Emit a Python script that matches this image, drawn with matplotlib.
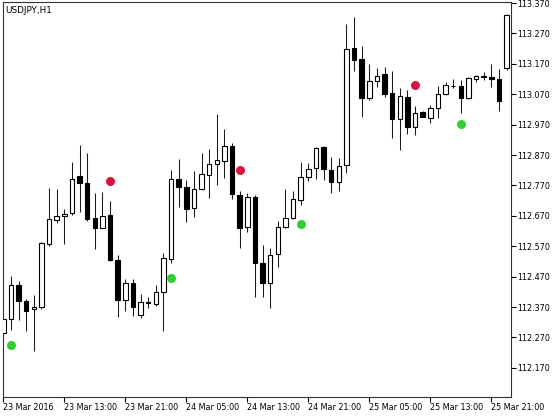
import matplotlib
matplotlib.use("Agg")
import matplotlib.pyplot as plt
import numpy as np

title = "USDJPY,H1"
opens = [112.285, 112.331, 112.442, 112.391, 112.362, 112.371, 112.577, 112.656, 112.669, 112.678,
         112.802, 112.777, 112.662, 112.631, 112.673, 112.525, 112.393, 112.450, 112.344, 112.383,
         112.380, 112.420, 112.527, 112.790, 112.764, 112.695, 112.757, 112.804, 112.840, 112.851,
         112.900, 112.738, 112.632, 112.733, 112.514, 112.450, 112.544, 112.634, 112.662, 112.722,
         112.799, 112.826, 112.895, 112.821, 112.782, 112.837, 113.221, 113.185, 113.057, 113.113,
         113.136, 113.073, 112.987, 113.062, 112.963, 113.011, 112.991, 113.024, 113.071, 113.097,
         113.097, 113.058, 113.120, 113.130, 113.128, 113.119, 113.155]
highs = [112.340, 112.473, 112.457, 112.396, 112.409, 112.584, 112.760, 112.757, 112.691, 112.846,
         112.903, 112.878, 112.744, 112.749, 112.719, 112.541, 112.461, 112.461, 112.413, 112.404,
         112.442, 112.547, 112.821, 112.856, 112.788, 112.818, 112.878, 112.889, 113.004, 112.955,
         112.908, 112.752, 112.744, 112.738, 112.574, 112.563, 112.654, 112.757, 112.753, 112.846,
         112.843, 112.897, 112.900, 112.862, 112.859, 113.301, 113.323, 113.229, 113.169, 113.155,
         113.160, 113.147, 113.089, 113.084, 113.031, 113.015, 113.034, 113.097, 113.111, 113.119,
         113.117, 113.126, 113.133, 113.144, 113.169, 113.152, 113.334]
lows = [112.278, 112.294, 112.327, 112.292, 112.226, 112.362, 112.571, 112.647, 112.577, 112.673,
        112.683, 112.654, 112.560, 112.629, 112.521, 112.338, 112.358, 112.340, 112.333, 112.366,
        112.374, 112.292, 112.516, 112.700, 112.651, 112.665, 112.755, 112.728, 112.771, 112.793,
        112.725, 112.563, 112.618, 112.402, 112.402, 112.366, 112.501, 112.630, 112.659, 112.706,
        112.785, 112.790, 112.788, 112.746, 112.753, 112.810, 113.147, 112.996, 113.051, 113.093,
        113.060, 112.925, 112.886, 112.939, 112.936, 112.994, 112.974, 112.991, 113.067, 113.089,
        113.007, 113.055, 113.111, 113.117, 113.093, 113.016, 113.150]
closes = [112.331, 112.442, 112.391, 112.358, 112.369, 112.580, 112.658, 112.669, 112.676, 112.790,
          112.777, 112.658, 112.631, 112.669, 112.525, 112.393, 112.450, 112.369, 112.387, 112.385,
          112.420, 112.532, 112.790, 112.764, 112.692, 112.757, 112.807, 112.840, 112.854, 112.900,
          112.742, 112.629, 112.733, 112.514, 112.450, 112.541, 112.634, 112.664, 112.724, 112.799,
          112.823, 112.892, 112.823, 112.782, 112.834, 113.218, 113.183, 113.057, 113.113, 113.130,
          113.071, 112.987, 113.065, 112.961, 113.009, 112.996, 113.024, 113.071, 113.100, 113.098,
          113.058, 113.122, 113.130, 113.126, 113.119, 113.049, 113.331]

up_idx = [14, 31, 54]
up_val = [112.785, 112.820, 113.099]
down_idx = [1, 22, 39, 60]
down_val = [112.245, 112.466, 112.643, 112.972]

y_ticks = [112.170, 112.270, 112.370, 112.470, 112.570, 112.670, 112.770, 112.870,
           112.970, 113.070, 113.170, 113.270, 113.370]
x_tick_pos = [0, 8, 16, 24, 32, 40, 48, 56, 64]
x_tick_labels = ["23 Mar 2016", "23 Mar 13:00", "23 Mar 21:00", "24 Mar 05:00", "24 Mar 13:00",
                 "24 Mar 21:00", "25 Mar 05:00", "25 Mar 13:00", "25 Mar 21:00"]

plt.rcParams['font.family'] = ['DejaVu Sans']
fig = plt.figure(figsize=(5.6, 4.16), dpi=100)
ax = fig.add_axes([3/560, 19/416, 508/560, 395/416])

o = np.array(opens); h = np.array(highs); l = np.array(lows); c = np.array(closes)
x = np.arange(len(o))
ax.vlines(x, l, h, color='#1a1a1a', linewidth=0.75, zorder=2)
bull = c >= o
bottoms = np.minimum(o, c)
heights = np.maximum(np.abs(c - o), 0.0005)
ax.bar(x, heights, bottom=bottoms, width=0.6,
       color=np.where(bull, 'white', 'black'), edgecolor='black', linewidth=0.8, zorder=3)

ax.scatter(up_idx, up_val, s=42, color='#DC143C', zorder=4, linewidths=0)
ax.scatter(down_idx, down_val, s=42, color='#32CD32', zorder=4, linewidths=0)

ax.set_xlim(-0.04, 66.58)
ax.set_ylim(112.074, 113.3733)

ax.yaxis.tick_right()
ax.set_yticks(y_ticks)
ax.set_yticklabels([f"{v:.3f}" for v in y_ticks])
ax.set_xticks(x_tick_pos)
ax.set_xticklabels(x_tick_labels, ha='left')
ax.tick_params(axis='both', direction='out', length=3.5, width=0.8, labelsize=5.8, colors='black', pad=1)
for s in ax.spines.values():
    s.set_color('#333333')
    s.set_linewidth(0.8)

ax.text(0.004, 0.99, title, transform=ax.transAxes, va='top', ha='left', fontsize=6.4)

fig.savefig("out.png", dpi=100)
